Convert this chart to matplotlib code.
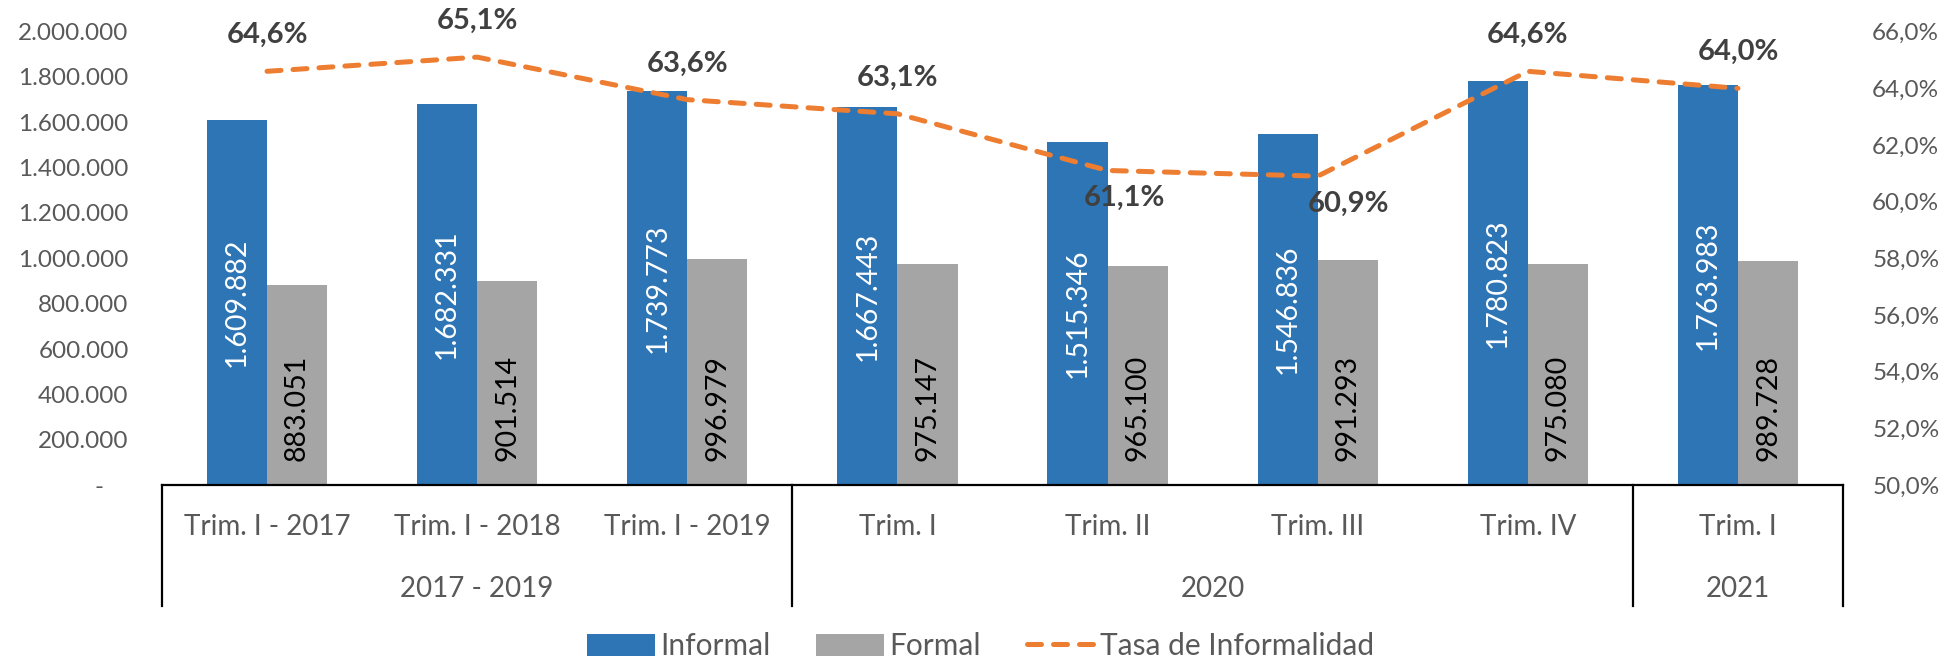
import matplotlib.pyplot as plt
from matplotlib.transforms import blended_transform_factory
from matplotlib.ticker import FuncFormatter

plt.rcParams['font.family'] = ['Lato', 'DejaVu Sans']

periods = ["Trim. I - 2017", "Trim. I - 2018", "Trim. I - 2019",
           "Trim. I", "Trim. II", "Trim. III", "Trim. IV", "Trim. I"]
groups = ["2017 - 2019", "2020", "2021"]
group_sizes = [3, 4, 1]
informal = [1609882, 1682331, 1739773, 1667443, 1515346, 1546836, 1780823, 1763983]
formal = [883051, 901514, 996979, 975147, 965100, 991293, 975080, 989728]
tasa = [64.6, 65.1, 63.6, 63.1, 61.1, 60.9, 64.6, 64.0]

BLUE = "#2E75B6"
GRAY = "#A5A5A5"
ORANGE = "#ED7D31"
TXT = "#595959"

# label placement for the rate (points): above / below and small x nudges
label_below = [False, False, False, False, True, True, False, False]
label_dx = [0, 0, 0, 0, 12, 22, 0, 0]


def miles(v):
    return f"{int(v):,}".replace(",", ".")


def pct(v):
    return f"{v:.1f}%".replace(".", ",")


fig = plt.figure(figsize=(19.47, 6.59), dpi=100)
ax = fig.add_axes([0.0832, 0.264, 0.8634, 0.688])
ax2 = ax.twinx()

x = list(range(len(periods)))
w = 0.286
bars_inf = ax.bar([i - w / 2 for i in x], informal, w, color=BLUE, label="Informal")
bars_for = ax.bar([i + w / 2 for i in x], formal, w, color=GRAY, label="Formal")

for i in x:
    ax.text(i - w / 2, informal[i] / 2, miles(informal[i]), rotation=90,
            ha="center", va="center", color="white", fontsize=20.5)
    ax.annotate(miles(formal[i]), (i + w / 2, 0), xytext=(0, 17),
                textcoords="offset points", rotation=90, ha="center",
                va="bottom", color="black", fontsize=20.5)

ax.set_xlim(-0.5, len(periods) - 0.5)
ax.set_ylim(0, 2000000)
ax.set_yticks(range(0, 2000001, 200000))
ax.yaxis.set_major_formatter(FuncFormatter(lambda v, p: miles(v) if v else "-    "))
ax.tick_params(axis="y", length=0, pad=24, labelsize=17.5, labelcolor=TXT)
ax.set_xticks([])
for s in ["top", "left", "right"]:
    ax.spines[s].set_visible(False)
ax.spines["bottom"].set_color("black")
ax.spines["bottom"].set_linewidth(1.6)

line, = ax2.plot(x, tasa, color=ORANGE, lw=3.6, ls=(0, (2.8, 2.4)),
                 dash_capstyle="round", label="Tasa de Informalidad")
ax2.set_ylim(50, 66)
ax2.set_yticks(range(50, 67, 2))
ax2.yaxis.set_major_formatter(FuncFormatter(lambda v, p: pct(v)))
ax2.tick_params(axis="y", length=0, pad=21, labelsize=17.5, labelcolor=TXT)
for s in ax2.spines.values():
    s.set_visible(False)

for i in x:
    dy = -20 if label_below[i] else 26
    ax2.annotate(pct(tasa[i]), (i, tasa[i]), xytext=(label_dx[i], dy),
                 textcoords="offset points", ha="center", va="center",
                 fontsize=21, fontweight="bold", color="#404040")

# multi-level category axis
tr = blended_transform_factory(ax.transData, ax.transAxes)
for i, p in enumerate(periods):
    ax.text(i, -0.093, p, transform=tr, ha="center", va="center",
            fontsize=20, color=TXT)
start = 0
edges = [-0.5]
for g, n in zip(groups, group_sizes):
    ax.text(start + (n - 1) / 2, -0.229, g, transform=tr, ha="center",
            va="center", fontsize=20, color=TXT)
    start += n
    edges.append(start - 0.5)
for e in edges:
    ax.plot([e, e], [0, -0.267], transform=tr, color="black", lw=1.6,
            clip_on=False)

fig.legend([bars_inf, bars_for, line], ["Informal", "Formal", "Tasa de Informalidad"],
           loc="center", bbox_to_anchor=(0.5035, 0.0197), ncol=3, frameon=False,
           fontsize=21.5, labelcolor=TXT, handlelength=2.28, handleheight=0.75,
           handletextpad=0.17, columnspacing=1.54)

fig.savefig("out.png", dpi=100)
